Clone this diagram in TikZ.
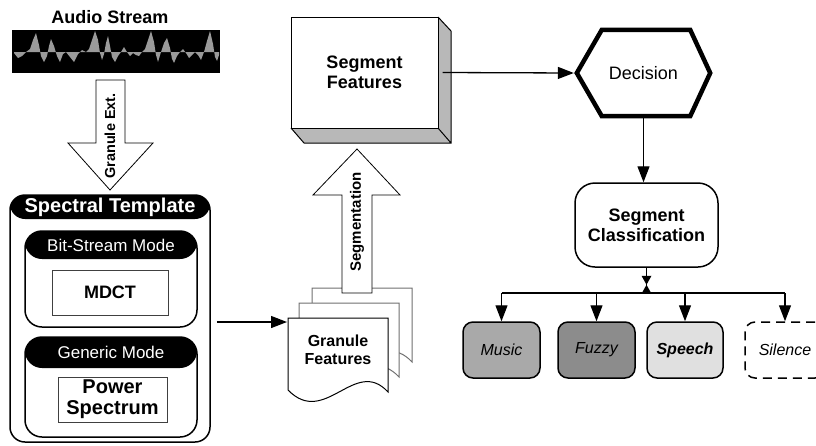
\documentclass[tikz,border=0pt]{standalone}
\usepackage{fontspec}
\setmainfont{Liberation Sans}
\usetikzlibrary{arrows.meta}
\definecolor{sidegray}{HTML}{B8B8B8}
\definecolor{wavegray}{HTML}{9A9A9A}
\definecolor{musicgray}{HTML}{A9A9A9}
\definecolor{fuzzygray}{HTML}{8C8C8C}
\definecolor{speechgray}{HTML}{E0E0E0}
\definecolor{docline}{HTML}{707070}
\tikzset{
  arr/.style={line width=1.3, -{Triangle[length=16pt,width=12pt]}},
  blockarrow/.style={draw, fill=white, line width=0.8},
  fbig/.style={font=\fontsize{18}{20}\selectfont\bfseries},
  rounded/.style={draw, rounded corners=15, line width=1.5, inner sep=0},
  classbox/.style={draw, rounded corners=10, line width=1.5, minimum width=77, minimum height=56, inner sep=0, font=\fontsize{16}{18}\selectfont\itshape},
  plainbox/.style={draw=black!75, line width=0.8, inner sep=0, align=center},
}
\begin{document}
\begin{tikzpicture}[x=1pt,y=-1pt]
\useasboundingbox (0,0) rectangle (816,445);
% Audio stream
\node[fbig] (title) at (110,17) {Audio Stream};
\fill[black] (12,30) rectangle (220,73);
\fill[wavegray] (14,52) -- plot coordinates {(14,53) (18,58) (22,56) (26,52) (30,49) (33,40) (36,33) (39,45) (41,56) (44,62) (47,56) (49,46) (51,39) (54,46) (57,56) (60,62) (63,54) (66,52) (70,57) (74,62) (78,54) (82,50) (86,52) (89,49) (92,40) (95,31) (98,40) (100,53) (102,60) (104,54) (106,43) (108,36) (110,46) (112,57) (115,62) (118,56) (121,52) (124,47) (127,52) (130,56) (133,53) (136,55) (139,56) (142,52) (145,49) (148,40) (151,31) (154,42) (156,55) (158,62) (161,52) (164,43) (167,38) (170,48) (172,59) (174,63) (177,56) (180,52) (183,49) (186,53) (189,58) (192,55) (195,52) (198,55) (201,60) (204,52) (207,41) (210,31) (213,44) (215,57) (217,61) (219,55)} -- (219,52) -- cycle;
% Granule Ext arrow
\draw[blockarrow] (96,80) -- (125,80) -- (125,143) -- (153,143) -- (110,190) -- (68,143) -- (96,143) -- cycle;
\node[rotate=90, font=\fontsize{14.5}{16}\selectfont\bfseries] (gext) at (110,136) {Granule Ext.};
% Spectral template
\node[rounded, minimum width=200, minimum height=247,
  path picture={\fill[black] (path picture bounding box.north west) rectangle ([yshift=-24]path picture bounding box.north east);}] (st) at (110,318.5) {};
\node[text=white, font=\fontsize{20}{22}\selectfont\bfseries] (sttitle) at (110,207.5) {Spectral Template};
\node[rounded, rounded corners=17, minimum width=172, minimum height=96,
  path picture={\fill[black] (path picture bounding box.north west) rectangle ([yshift=-28]path picture bounding box.north east);}] (bs) at (111,279) {};
\node[text=white, font=\fontsize{17}{19}\selectfont] (bstitle) at (111,245.5) {Bit-Stream Mode};
\node[plainbox, minimum width=116, minimum height=45, font=\fontsize{18}{20}\selectfont\bfseries] (mdct) at (110,292.5) {MDCT};
\node[rounded, rounded corners=17, minimum width=172, minimum height=100,
  path picture={\fill[black] (path picture bounding box.north west) rectangle ([yshift=-31]path picture bounding box.north east);}] (gm) at (111,387) {};
\node[text=white, font=\fontsize{17}{19}\selectfont] (gmtitle) at (111,352.5) {Generic Mode};
\node[plainbox, minimum width=109, minimum height=45, font=\fontsize{20}{21}\selectfont\bfseries] (ps) at (112.5,399.5) {Power\\Spectrum};
% Granule features documents
\foreach \dx/\dy/\lc in {24/-30/docline, 11/-15/docline, 0/0/black}{
  \draw[\lc, fill=white, line width=1] ([shift={(\dx,\dy)}]288,318) -- ([shift={(\dx,\dy)}]388,318) -- ([shift={(\dx,\dy)}]388,392)
    .. controls ([shift={(\dx,\dy)}]355,356) and ([shift={(\dx,\dy)}]325,428) .. ([shift={(\dx,\dy)}]288,390) -- cycle;
}
\node[align=center, font=\fontsize{16}{18}\selectfont\bfseries] (gf) at (338,350) {Granule\\Features};
\coordinate (gfin) at (287,322);
\draw[arr] ([xshift=6]st.east |- gfin) -- (gfin);
% Segmentation arrow
\draw[blockarrow] (342,293) -- (372,293) -- (372,195) -- (400,195) -- (357,149) -- (313,195) -- (342,195) -- cycle;
\node[rotate=90, font=\fontsize{15}{17}\selectfont\bfseries] (segm) at (357,222) {Segmentation};
% Segment features 3D box
\fill[sidegray] (438,17) -- (451,31) -- (451,143) -- (438,128) -- cycle;
\fill[sidegray] (291,128) -- (438,128) -- (451,143) -- (304,143) -- cycle;
\draw[line width=1] (438,17) -- (451,31) -- (451,143) -- (304,143) -- (291,128) (438,128) -- (451,143);
\node[draw, fill=white, line width=1, minimum width=147, minimum height=111, inner sep=0, align=center, fbig] (sf) at (364.5,72.5) {Segment\\Features};
% Decision
\node[minimum width=133, minimum height=86, inner sep=0, font=\fontsize{18}{20}\selectfont] (dec) at (643.5,73) {Decision};
\draw[line width=4.5, line join=miter] (dec.west) -- ([xshift=25]dec.north west) -- ([xshift=-20]dec.north east) -- (dec.east) -- ([xshift=-20]dec.south east) -- ([xshift=25]dec.south west) -- cycle;
\draw[arr] ([xshift=4]sf.east) -- ([xshift=-3]dec.west);
% Segment classification
\node[rounded, rounded corners=20, minimum width=143, minimum height=84, align=center, fbig] (sc) at (646.5,225) {Segment\\Classification};
\draw[arr] ([yshift=-2]dec.south) -- (dec.south |- sc.north);
% classes
\node[classbox, fill=musicgray] (music) at (501.5,350) {Music};
\node[classbox, fill=fuzzygray] (fuzzy) at (596.5,350) {Fuzzy};
\node[classbox, fill=speechgray, minimum width=76, font=\fontsize{16}{18}\selectfont\bfseries\itshape] (speech) at (685,350) {Speech};
\node[classbox, dashed, dash pattern=on 9pt off 6pt, fill=white, minimum width=80] (silence) at (785,350) {Silence};
\coordinate (br) at (645,293);
\draw[line width=1.3] (sc.south) -- (sc.south |- br);
\fill ([shift={(-5,8)}]sc.south) -- ([shift={(5,8)}]sc.south) -- ([shift={(-5,26)}]sc.south) -- ([shift={(5,26)}]sc.south) -- cycle;
\draw[line width=1.3] (music.north |- br) -- (silence.north |- br);
\foreach \n in {music,fuzzy,speech,silence}{
  \draw[arr] (\n.north |- br) -- (\n.north);
}
\end{tikzpicture}
\end{document}
